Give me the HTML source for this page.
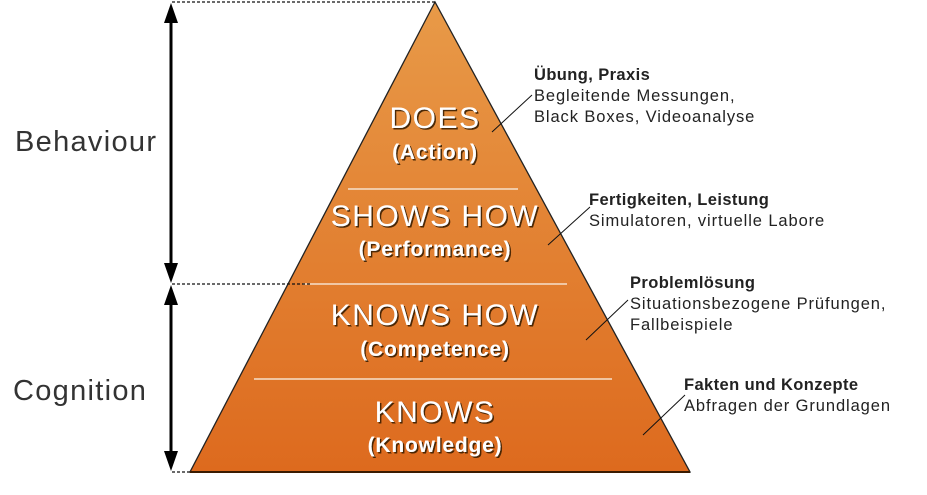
<!DOCTYPE html>
<html><head><meta charset="utf-8"><style>
body{margin:0;background:#fff;}
svg text{font-family:"Liberation Sans",Arial,sans-serif;}
</style></head><body>
<svg width="927" height="490" viewBox="0 0 927 490" xmlns="http://www.w3.org/2000/svg">
<defs>
<linearGradient id="g" x1="0" y1="0" x2="0" y2="1">
<stop offset="0" stop-color="#e89a48"/>
<stop offset="1" stop-color="#dd6a1e"/>
</linearGradient>
<filter id="s" x="-10%" y="-10%" width="120%" height="130%"><feDropShadow dx="1.5" dy="1.5" stdDeviation="0.3" flood-color="#3a1a00" flood-opacity="0.9"/></filter>
</defs>
<polygon points="435,2 190,472 690,472" fill="url(#g)" stroke="#222" stroke-width="1.3"/>
<line x1="190" y1="472" x2="690" y2="472" stroke="#3a1a00" stroke-width="2"/>
<g stroke="#f6e0cc" stroke-width="1.5">
<line x1="348" y1="189" x2="518" y2="189"/>
<line x1="303" y1="284" x2="567" y2="284"/>
<line x1="254" y1="379" x2="612" y2="379"/>
</g>
<g fill="#fff" text-anchor="middle" filter="url(#s)">
<text x="435" y="128" font-size="30" letter-spacing="1.5">DOES</text>
<text x="435" y="159" font-size="21" font-weight="bold" letter-spacing="0.8">(Action)</text>
<text x="435" y="226" font-size="30" letter-spacing="1.5">SHOWS HOW</text>
<text x="435" y="256" font-size="21" font-weight="bold" letter-spacing="0.8">(Performance)</text>
<text x="435" y="325" font-size="30" letter-spacing="1.5">KNOWS HOW</text>
<text x="435" y="356" font-size="21" font-weight="bold" letter-spacing="0.8">(Competence)</text>
<text x="435" y="422" font-size="30" letter-spacing="1.5">KNOWS</text>
<text x="435" y="452" font-size="21" font-weight="bold" letter-spacing="0.8">(Knowledge)</text>
</g>
<g stroke="#111" stroke-width="1.3" stroke-dasharray="3,2">
<line x1="172" y1="2" x2="435" y2="2"/>
<line x1="172" y1="284" x2="310" y2="284"/>
<line x1="172" y1="472" x2="190" y2="472"/>
</g>
<g stroke="#000" stroke-width="3">
<line x1="171" y1="18" x2="171" y2="268"/>
<line x1="171" y1="300" x2="171" y2="456"/>
</g>
<g fill="#000">
<polygon points="171,3 164,23 178,23"/>
<polygon points="171,283 164,263 178,263"/>
<polygon points="171,285 164,305 178,305"/>
<polygon points="171,471 164,451 178,451"/>
</g>
<text x="15" y="151" font-size="29" fill="#333" letter-spacing="1.3">Behaviour</text>
<text x="13" y="400" font-size="29" fill="#333" letter-spacing="1.3">Cognition</text>
<g stroke="#111" stroke-width="1">
<line x1="492" y1="132" x2="532" y2="95"/>
<line x1="548" y1="245" x2="590" y2="207"/>
<line x1="586" y1="340" x2="628" y2="300"/>
<line x1="643" y1="435" x2="685" y2="395"/>
</g>
<g font-size="16.5" fill="#222" letter-spacing="0.9">
<text x="534" y="80" font-weight="bold" letter-spacing="0.4">Übung, Praxis</text>
<text x="534" y="101">Begleitende Messungen,</text>
<text x="534" y="122">Black Boxes, Videoanalyse</text>
<text x="589" y="205" font-weight="bold" letter-spacing="0.4">Fertigkeiten, Leistung</text>
<text x="589" y="226">Simulatoren, virtuelle Labore</text>
<text x="630" y="288" font-weight="bold" letter-spacing="0.4">Problemlösung</text>
<text x="630" y="309">Situationsbezogene Prüfungen,</text>
<text x="630" y="330">Fallbeispiele</text>
<text x="684" y="390" font-weight="bold" letter-spacing="0.4">Fakten und Konzepte</text>
<text x="684" y="411">Abfragen der Grundlagen</text>
</g>
</svg>
</body></html>
